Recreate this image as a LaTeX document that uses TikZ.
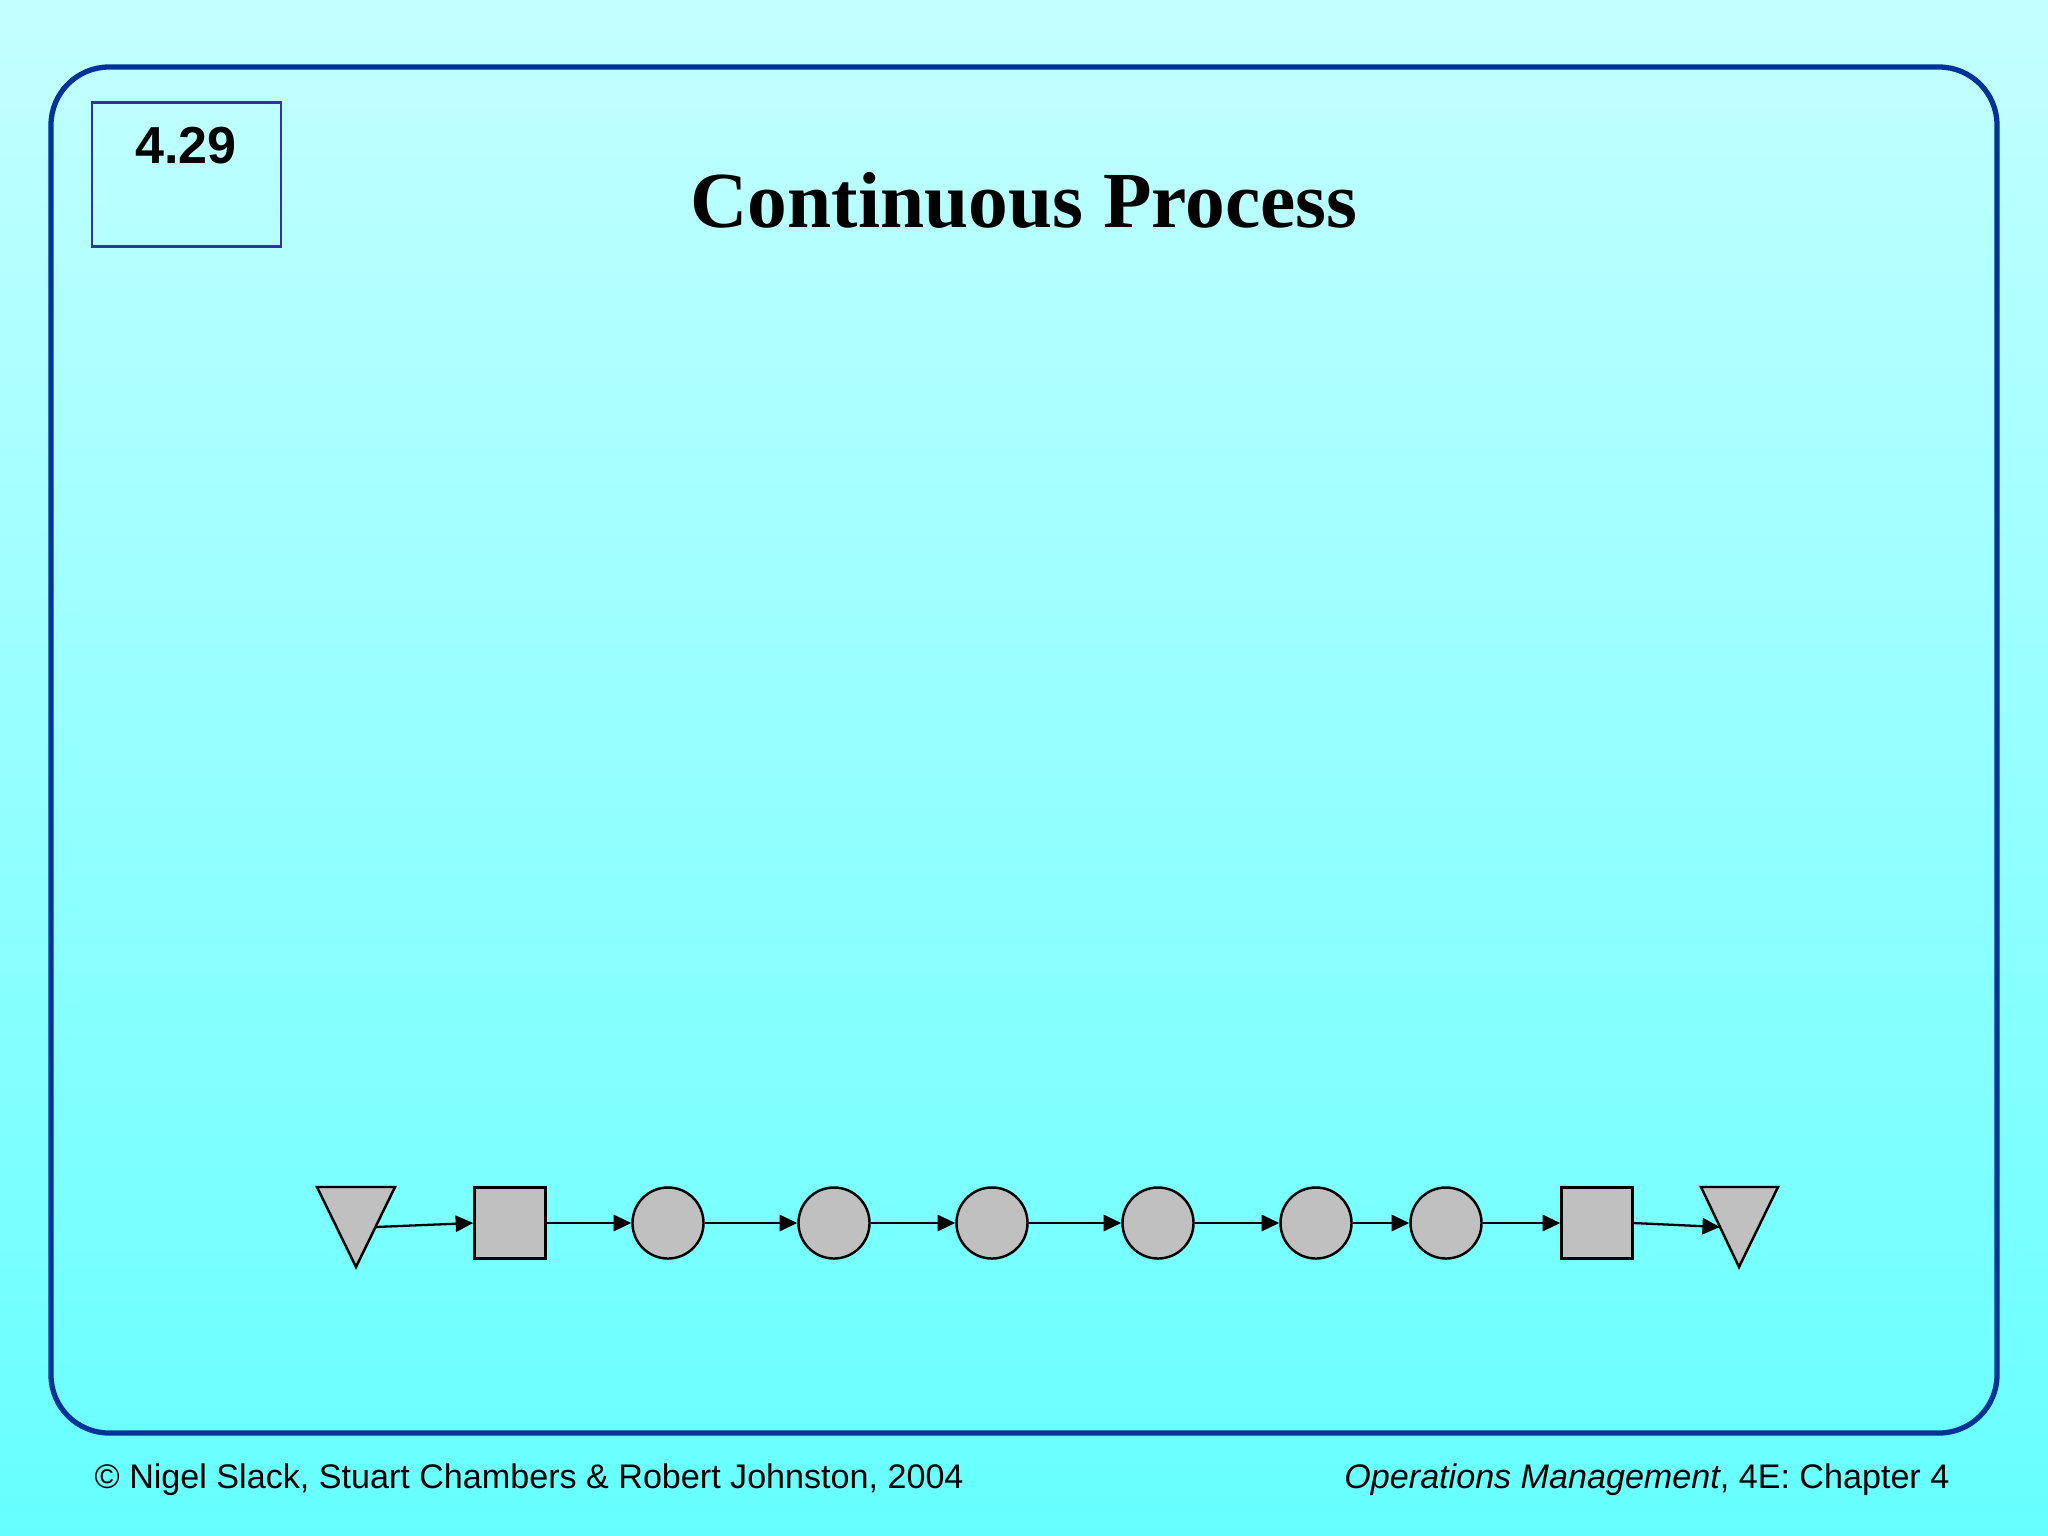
\documentclass[tikz,border=0pt]{standalone}
\usepackage{fontspec}
\setmainfont{Liberation Sans}
\newfontfamily\titlefont{Liberation Serif}
\usetikzlibrary{arrows.meta}
\definecolor{bgtop}{RGB}{196,255,255}
\definecolor{bgbot}{RGB}{102,255,255}
\definecolor{framecol}{RGB}{0,51,153}
\definecolor{numboxcol}{RGB}{51,51,153}
\definecolor{shapegray}{RGB}{192,192,192}
\begin{document}
\begin{tikzpicture}[x=0.01cm,y=-0.01cm,
  procnode/.style={circle,draw=black,fill=shapegray,line width=0.7pt,minimum size=0.71cm,inner sep=0pt},
  opernode/.style={rectangle,draw=black,fill=shapegray,line width=0.7pt,minimum size=0.71cm,inner sep=0pt},
  storeshape/.style={draw=black,fill=shapegray,line width=0.7pt,line join=miter},
  flow/.style={line width=0.65pt,-{Triangle[length=5pt,width=4.6pt]}},
  footer/.style={font=\fontsize{9.7}{11}\selectfont,inner sep=0pt}]
\useasboundingbox (0,0) rectangle (2048,1536);
\shade[top color=bgtop,bottom color=bgbot] (0,0) rectangle (2048,1536);
% frame
\draw[framecol,line width=1.5pt,rounded corners=0.58cm] (51,67) rectangle (1997,1433);
% slide number box
\node[draw=numboxcol,line width=0.6pt,minimum width=1.89cm,minimum height=1.44cm,inner sep=0pt] (numbox) at (186.5,174.5) {};
\node[font=\bfseries\fontsize{14.8}{17}\selectfont] (num) at (186,146) {4.29};
% title
\node[font=\titlefont\bfseries\fontsize{22.6}{26}\selectfont] (title) at (1024,200.5) {Continuous Process};
% storage triangles
\filldraw[storeshape] (317,1187) -- (395,1187) -- (356,1267) -- cycle;
\coordinate (t1) at (375.5,1227);
\filldraw[storeshape] (1701,1187) -- (1778,1187) -- (1739,1267) -- cycle;
\coordinate (t2) at (1720,1227);
% operations
\node[opernode] (s1) at (510,1223) {};
\node[procnode] (c1) at (668,1223) {};
\node[procnode] (c2) at (834,1223) {};
\node[procnode] (c3) at (992,1223) {};
\node[procnode] (c4) at (1158,1223) {};
\node[procnode] (c5) at (1316,1223) {};
\node[procnode] (c6) at (1446,1223) {};
\node[opernode] (s2) at (1597,1223) {};
% flows
\draw[flow] (t1) -- (s1.west);
\draw[flow] (s1) -- (c1);
\draw[flow] (c1) -- (c2);
\draw[flow] (c2) -- (c3);
\draw[flow] (c3) -- (c4);
\draw[flow] (c4) -- (c5);
\draw[flow] (c5) -- (c6);
\draw[flow] (c6) -- (s2);
\draw[flow] (s2.east) -- (t2);
% footers
\node[footer,anchor=base west] (leftfoot) at (94,1488) {© Nigel Slack, Stuart Chambers \& Robert Johnston, 2004};
\node[footer,anchor=base east] (rightfoot) at (1950,1488) {\textit{Operations Management}, 4E: Chapter 4};
\end{tikzpicture}
\end{document}
